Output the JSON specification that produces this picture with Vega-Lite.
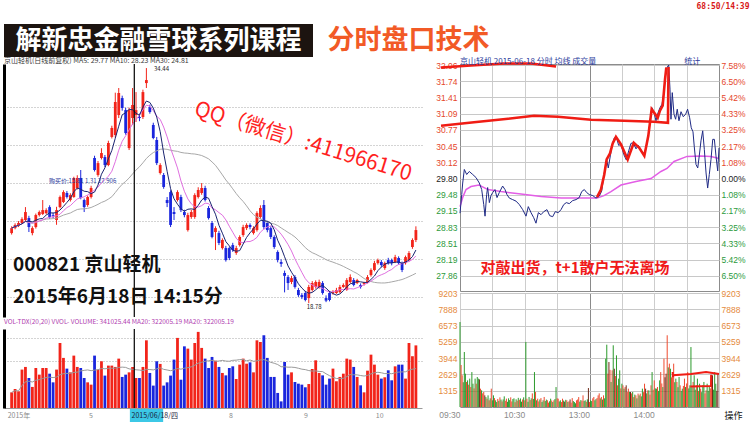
{
"$schema": "https://vega.github.io/schema/vega-lite/v6.json",
"background": "white",
"padding": {"left": 4, "top": 3, "right": 0, "bottom": 0},
"title": {"text": "68:50/14:39", "anchor": "end", "fontSize": 8, "color": "#d81818", "font": "DejaVu Sans Mono", "fontWeight": "bold", "offset": 13},
"config": {"view": {"stroke": null}, "axis": {"labelFont": "Liberation Sans"}, "title": {"font": "Noto Sans CJK SC", "fontWeight": "normal"}},
"spacing": 0,
"datasets": {
"k": [
{"i":0,"o":23.45,"h":23.9,"l":23.35,"c":23.78,"v":130},
{"i":1,"o":23.78,"h":24.1,"l":23.7,"c":23.99,"v":158},
{"i":2,"o":23.92,"h":24.25,"l":23.85,"c":24.12,"v":139},
{"i":3,"o":24.12,"h":24.5,"l":24.05,"c":24.38,"v":319},
{"i":4,"o":24.32,"h":25.18,"l":24.25,"c":24.85,"v":341},
{"i":5,"o":24.45,"h":24.6,"l":23.52,"c":23.85,"v":249},
{"i":6,"o":23.45,"h":23.9,"l":23.3,"c":23.78,"v":175},
{"i":7,"o":23.85,"h":24.75,"l":23.75,"c":24.65,"v":332},
{"i":8,"o":24.65,"h":24.95,"l":24.55,"c":24.85,"v":277},
{"i":9,"o":24.72,"h":25.65,"l":24.65,"c":24.98,"v":332},
{"i":10,"o":24.78,"h":25.1,"l":24.7,"c":24.98,"v":332},
{"i":11,"o":25.18,"h":25.3,"l":24.4,"c":24.52,"v":285},
{"i":12,"o":24.65,"h":24.8,"l":24.45,"c":24.6,"v":213},
{"i":13,"o":24.32,"h":25.2,"l":24.0,"c":24.98,"v":319},
{"i":14,"o":25.18,"h":25.95,"l":25.1,"c":25.85,"v":540},
{"i":15,"o":25.52,"h":26.3,"l":25.45,"c":26.18,"v":416},
{"i":16,"o":26.12,"h":26.25,"l":25.75,"c":25.85,"v":327},
{"i":17,"o":25.65,"h":26.1,"l":25.55,"c":25.98,"v":296},
{"i":18,"o":25.85,"h":27.2,"l":25.8,"c":27.12,"v":435},
{"i":19,"o":26.45,"h":27.3,"l":26.35,"c":27.12,"v":341},
{"i":20,"o":27.12,"h":27.65,"l":25.7,"c":25.78,"v":332},
{"i":21,"o":25.65,"h":25.75,"l":24.85,"c":25.18,"v":249},
{"i":22,"o":25.32,"h":25.95,"l":25.2,"c":25.85,"v":213},
{"i":23,"o":25.85,"h":26.6,"l":25.75,"c":26.45,"v":194},
{"i":24,"o":28.45,"h":28.6,"l":27.55,"c":27.65,"v":435},
{"i":25,"o":27.32,"h":28.25,"l":27.2,"c":28.11,"v":319},
{"i":26,"o":28.45,"h":29.1,"l":28.35,"c":28.78,"v":388},
{"i":27,"o":28.51,"h":28.65,"l":27.85,"c":27.98,"v":269},
{"i":28,"o":27.98,"h":29.6,"l":27.9,"c":29.45,"v":352},
{"i":29,"o":29.85,"h":30.6,"l":29.75,"c":30.45,"v":352},
{"i":30,"o":29.98,"h":32.8,"l":29.8,"c":32.18,"v":341},
{"i":31,"o":31.31,"h":33.11,"l":31.11,"c":32.78,"v":410},
{"i":32,"o":32.44,"h":32.6,"l":31.6,"c":31.78,"v":258},
{"i":33,"o":31.64,"h":31.8,"l":30.0,"c":30.11,"v":277},
{"i":34,"o":29.11,"h":31.8,"l":28.98,"c":31.64,"v":296},
{"i":35,"o":31.11,"h":33.11,"l":30.65,"c":31.98,"v":341},
{"i":36,"o":31.31,"h":32.84,"l":30.85,"c":31.64,"v":249},
{"i":37,"o":31.18,"h":31.4,"l":30.9,"c":31.11,"v":249},
{"i":38,"o":31.18,"h":33.0,"l":31.05,"c":32.84,"v":341},
{"i":39,"o":33.44,"h":34.44,"l":33.11,"c":33.64,"v":562},
{"i":40,"o":31.84,"h":32.0,"l":31.4,"c":31.51,"v":291},
{"i":41,"o":30.65,"h":30.8,"l":29.7,"c":29.78,"v":186},
{"i":42,"o":29.65,"h":29.85,"l":27.98,"c":28.11,"v":388},
{"i":43,"o":27.45,"h":28.1,"l":27.35,"c":27.98,"v":366},
{"i":44,"o":27.32,"h":27.45,"l":26.4,"c":26.52,"v":186},
{"i":45,"o":25.65,"h":25.85,"l":25.18,"c":25.45,"v":213},
{"i":46,"o":26.18,"h":26.3,"l":23.85,"c":23.99,"v":269},
{"i":47,"o":24.85,"h":25.18,"l":24.32,"c":24.72,"v":402},
{"i":48,"o":25.65,"h":26.3,"l":25.55,"c":26.18,"v":582},
{"i":49,"o":25.85,"h":26.0,"l":24.85,"c":24.98,"v":235},
{"i":50,"o":24.85,"h":25.0,"l":24.5,"c":24.65,"v":512},
{"i":51,"o":23.65,"h":24.8,"l":23.55,"c":24.65,"v":493},
{"i":52,"o":24.52,"h":25.0,"l":24.4,"c":24.85,"v":402},
{"i":53,"o":24.52,"h":26.1,"l":24.4,"c":25.98,"v":540},
{"i":54,"o":25.85,"h":26.5,"l":25.75,"c":26.32,"v":632},
{"i":55,"o":26.12,"h":26.78,"l":26.0,"c":26.45,"v":499},
{"i":56,"o":26.45,"h":26.6,"l":25.55,"c":25.65,"v":410},
{"i":57,"o":25.12,"h":25.25,"l":24.35,"c":24.45,"v":332},
{"i":58,"o":24.12,"h":24.25,"l":23.1,"c":23.19,"v":424},
{"i":59,"o":23.52,"h":23.9,"l":22.32,"c":23.78,"v":393},
{"i":60,"o":23.45,"h":23.6,"l":22.65,"c":22.79,"v":341},
{"i":61,"o":22.45,"h":23.1,"l":22.35,"c":22.99,"v":291},
{"i":62,"o":22.45,"h":22.6,"l":21.55,"c":21.65,"v":271},
{"i":63,"o":22.45,"h":22.55,"l":21.65,"c":21.79,"v":332},
{"i":64,"o":22.65,"h":22.8,"l":22.2,"c":22.32,"v":346},
{"i":65,"o":22.12,"h":22.6,"l":22.0,"c":22.45,"v":241},
{"i":66,"o":22.65,"h":23.3,"l":22.55,"c":23.19,"v":360},
{"i":67,"o":23.32,"h":24.0,"l":23.2,"c":23.85,"v":410},
{"i":68,"o":23.78,"h":24.1,"l":23.65,"c":23.99,"v":368},
{"i":69,"o":23.99,"h":24.1,"l":23.7,"c":23.85,"v":379},
{"i":70,"o":23.45,"h":23.9,"l":23.35,"c":23.78,"v":296},
{"i":71,"o":23.65,"h":24.9,"l":23.55,"c":24.78,"v":562},
{"i":72,"o":24.52,"h":25.3,"l":24.4,"c":25.12,"v":548},
{"i":73,"o":25.32,"h":25.65,"l":23.7,"c":23.85,"v":604},
{"i":74,"o":24.12,"h":24.25,"l":23.5,"c":23.65,"v":416},
{"i":75,"o":23.78,"h":23.9,"l":23.05,"c":23.19,"v":258},
{"i":76,"o":23.19,"h":23.3,"l":22.4,"c":22.52,"v":258},
{"i":77,"o":22.19,"h":22.3,"l":21.5,"c":21.65,"v":125},
{"i":78,"o":21.52,"h":21.7,"l":21.2,"c":21.4,"v":55},
{"i":79,"o":20.79,"h":20.95,"l":19.5,"c":20.6,"v":382},
{"i":80,"o":20.52,"h":20.65,"l":19.66,"c":20.12,"v":277},
{"i":81,"o":20.19,"h":20.6,"l":20.05,"c":20.45,"v":296},
{"i":82,"o":20.52,"h":20.65,"l":19.75,"c":19.86,"v":216},
{"i":83,"o":19.66,"h":19.8,"l":19.2,"c":19.32,"v":202},
{"i":84,"o":19.32,"h":19.45,"l":19.05,"c":19.19,"v":194},
{"i":85,"o":19.46,"h":19.6,"l":18.9,"c":18.99,"v":172},
{"i":86,"o":19.12,"h":20.0,"l":18.78,"c":19.86,"v":199},
{"i":87,"o":19.66,"h":20.25,"l":19.55,"c":20.12,"v":324},
{"i":88,"o":19.86,"h":20.3,"l":19.75,"c":20.19,"v":396},
{"i":89,"o":19.86,"h":20.35,"l":19.75,"c":20.19,"v":291},
{"i":90,"o":20.12,"h":20.25,"l":19.35,"c":19.46,"v":271},
{"i":91,"o":19.12,"h":19.3,"l":18.85,"c":18.95,"v":194},
{"i":92,"o":19.46,"h":19.6,"l":18.9,"c":18.99,"v":244},
{"i":93,"o":19.46,"h":19.65,"l":19.35,"c":19.52,"v":327},
{"i":94,"o":19.46,"h":19.8,"l":19.4,"c":19.66,"v":222},
{"i":95,"o":19.52,"h":20.0,"l":19.45,"c":19.86,"v":258},
{"i":96,"o":19.86,"h":20.1,"l":19.8,"c":19.99,"v":285},
{"i":97,"o":19.66,"h":20.45,"l":19.6,"c":20.32,"v":410},
{"i":98,"o":20.19,"h":20.7,"l":20.1,"c":20.52,"v":402},
{"i":99,"o":20.32,"h":20.45,"l":19.9,"c":19.99,"v":341},
{"i":100,"o":20.12,"h":20.4,"l":20.05,"c":20.32,"v":258},
{"i":101,"o":19.99,"h":20.1,"l":19.75,"c":19.86,"v":188},
{"i":102,"o":20.06,"h":20.2,"l":19.95,"c":20.12,"v":130},
{"i":103,"o":20.19,"h":20.65,"l":20.1,"c":20.52,"v":310},
{"i":104,"o":20.65,"h":21.1,"l":20.55,"c":20.99,"v":443},
{"i":105,"o":20.99,"h":21.6,"l":20.9,"c":21.45,"v":360},
{"i":106,"o":21.45,"h":21.75,"l":21.35,"c":21.65,"v":277},
{"i":107,"o":21.52,"h":21.65,"l":21.2,"c":21.32,"v":244},
{"i":108,"o":21.12,"h":21.55,"l":21.0,"c":21.45,"v":255},
{"i":109,"o":21.65,"h":21.8,"l":21.35,"c":21.45,"v":313},
{"i":110,"o":21.65,"h":21.75,"l":21.3,"c":21.45,"v":230},
{"i":111,"o":21.52,"h":22.0,"l":21.45,"c":21.85,"v":346},
{"i":112,"o":21.79,"h":21.9,"l":21.35,"c":21.45,"v":360},
{"i":113,"o":21.45,"h":21.55,"l":20.85,"c":20.99,"v":360},
{"i":114,"o":21.45,"h":21.95,"l":21.35,"c":21.85,"v":244},
{"i":115,"o":21.65,"h":22.25,"l":21.55,"c":22.12,"v":540},
{"i":116,"o":22.52,"h":23.1,"l":22.4,"c":22.99,"v":430},
{"i":117,"o":22.99,"h":23.9,"l":22.85,"c":23.65,"v":520}
],
"px": [
{"m":0,"p":29.11},{"m":1.6,"p":29.48},{"m":2.5,"p":29.71},{"m":4,"p":29.98},{"m":6.2,"p":29.88},{"m":8.6,"p":29.94},{"m":11.8,"p":29.88},{"m":14.8,"p":29.82},{"m":17.9,"p":29.71},{"m":20.1,"p":29.58},{"m":22,"p":29.28},{"m":23.2,"p":29.05},{"m":24.7,"p":29.48},{"m":25.6,"p":29.62},{"m":27.2,"p":29.32},{"m":28.7,"p":29.46},{"m":30.3,"p":29.52},{"m":32.4,"p":29.58},{"m":34.3,"p":29.42},{"m":36.4,"p":29.52},{"m":39.5,"p":29.65},{"m":41.7,"p":29.58},{"m":43.5,"p":29.48},{"m":45.7,"p":29.41},{"m":48.8,"p":29.38},{"m":51.9,"p":29.35},{"m":55,"p":29.28},{"m":58.1,"p":29.18},{"m":61.2,"p":29.05},{"m":63.3,"p":29.24},{"m":65.8,"p":29.12},{"m":68.3,"p":29.02},{"m":70.4,"p":28.91},{"m":72.6,"p":29.12},{"m":75.1,"p":29.08},{"m":77.6,"p":29.14},{"m":80.6,"p":29.18},{"m":83.1,"p":29.06},{"m":85.9,"p":29.04},{"m":88.3,"p":29.14},{"m":91.1,"p":29.12},{"m":93.6,"p":29.18},{"m":96.1,"p":29.28},{"m":98.5,"p":29.32},{"m":101.3,"p":29.3},{"m":104.4,"p":29.36},{"m":107.5,"p":29.38},{"m":110.5,"p":29.42},{"m":112.8,"p":29.54},{"m":115.2,"p":29.58},{"m":117.4,"p":29.52},{"m":119.8,"p":29.48},{"m":123,"p":29.46},{"m":126,"p":29.41},{"m":129.1,"p":29.45},{"m":131.3,"p":29.55},{"m":133.7,"p":29.91},{"m":135.9,"p":30.18},{"m":137.4,"p":30.01},{"m":139.3,"p":30.25},{"m":141.1,"p":30.48},{"m":143,"p":30.61},{"m":144.8,"p":30.63},{"m":147,"p":30.46},{"m":149.2,"p":30.48},{"m":151.7,"p":30.28},{"m":154.1,"p":30.17},{"m":156.3,"p":30.35},{"m":158.4,"p":30.5},{"m":160.6,"p":30.51},{"m":163.1,"p":30.39},{"m":165.2,"p":30.46},{"m":167.7,"p":30.37},{"m":170.8,"p":30.28},{"m":173,"p":30.48},{"m":174.5,"p":30.65},{"m":176.3,"p":30.98},{"m":177.9,"p":31.21},{"m":179.8,"p":31.11},{"m":181.6,"p":30.95},{"m":183.5,"p":31.11},{"m":185.3,"p":31.21},{"m":187.2,"p":31.28},{"m":188.7,"p":31.48},{"m":190.2,"p":31.81},{"m":191.8,"p":32.01},{"m":193.4,"p":32.06},{"m":194.6,"p":31.58},{"m":195.5,"p":30.98},{"m":196.7,"p":31.51},{"m":198.3,"p":31.08},{"m":199.8,"p":30.98},{"m":201.3,"p":31.18},{"m":202.9,"p":30.95},{"m":204.8,"p":31.13},{"m":206.9,"p":31.03},{"m":209.1,"p":31.08},{"m":210.9,"p":31.18},{"m":212.8,"p":31.01},{"m":214.3,"p":30.81},{"m":215.9,"p":30.73},{"m":217.1,"p":30.43},{"m":218.7,"p":30.08},{"m":220.3,"p":30.01},{"m":221.7,"p":30.25},{"m":223.3,"p":30.55},{"m":224.9,"p":30.75},{"m":226.4,"p":30.38},{"m":228,"p":29.91},{"m":229.5,"p":29.61},{"m":231,"p":29.88},{"m":232.6,"p":30.18},{"m":234.2,"p":30.58},{"m":235.7,"p":30.58},{"m":237.2,"p":30.25},{"m":238.8,"p":29.95},{"m":240,"p":30.41}
],
"avg": [
{"m":0,"p":29.24},{"m":2.8,"p":29.44},{"m":5.6,"p":29.58},{"m":10.2,"p":29.64},{"m":17.6,"p":29.67},{"m":25.9,"p":29.58},{"m":38,"p":29.54},{"m":56.5,"p":29.49},{"m":75.1,"p":29.44},{"m":93.6,"p":29.41},{"m":112.1,"p":29.41},{"m":127,"p":29.41},{"m":133.4,"p":29.46},{"m":139.9,"p":29.54},{"m":149.2,"p":29.67},{"m":163.1,"p":29.74},{"m":177,"p":29.8},{"m":186.2,"p":29.94},{"m":191.8,"p":30.0},{"m":198.3,"p":30.14},{"m":210.4,"p":30.24},{"m":223.3,"p":30.25},{"m":232.6,"p":30.24},{"m":240,"p":30.2}
],
"ann": [
{"s":"A","k":0,"m":-17.6,"p":32.01},{"s":"A","k":1,"m":10.2,"p":32.05},{"s":"A","k":2,"m":40.8,"p":32.09},{"s":"A","k":3,"m":65.8,"p":32.09},{"s":"A","k":4,"m":89,"p":32.03},
{"s":"B","k":0,"m":-17.6,"p":30.85},{"s":"B","k":1,"m":13,"p":30.92},{"s":"B","k":2,"m":44.5,"p":30.99},{"s":"B","k":3,"m":68.6,"p":31.05},{"s":"B","k":4,"m":90.8,"p":31.03},{"s":"B","k":5,"m":121.4,"p":30.97},{"s":"B","k":6,"m":152,"p":30.95},{"s":"B","k":7,"m":179.8,"p":30.93},{"s":"B","k":8,"m":192.7,"p":30.91},{"s":"B","k":9,"m":193.2,"p":32.02},
{"s":"C","k":0,"m":127,"p":29.43},{"s":"C","k":1,"m":130.6,"p":29.58},{"s":"C","k":2,"m":133.7,"p":29.88},{"s":"C","k":3,"m":135.9,"p":30.18},{"s":"C","k":4,"m":139,"p":30.3},{"s":"C","k":5,"m":141.5,"p":30.5},{"s":"C","k":6,"m":144.5,"p":30.63},{"s":"C","k":7,"m":149.2,"p":30.48},{"s":"C","k":8,"m":155.4,"p":30.18},{"s":"C","k":9,"m":161,"p":30.51},{"s":"C","k":10,"m":166.1,"p":30.41},{"s":"C","k":11,"m":170.8,"p":30.25},{"s":"C","k":12,"m":174.5,"p":30.65},{"s":"C","k":13,"m":177.6,"p":31.18},{"s":"C","k":14,"m":180,"p":31.11},{"s":"C","k":15,"m":183.2,"p":31.01},{"s":"C","k":16,"m":185.3,"p":31.15},{"s":"C","k":17,"m":187.8,"p":31.25},{"s":"C","k":18,"m":190,"p":31.78},{"s":"C","k":19,"m":191.2,"p":32.01}
],
"rvann": [
{"s":"A","k":0,"m":197.1,"v":2825},{"s":"A","k":1,"m":197.2,"v":2420},{"s":"A","k":2,"m":197.4,"v":2558},{"s":"A","k":3,"m":214,"v":2663},{"s":"A","k":4,"m":228,"v":2825},{"s":"A","k":5,"m":240,"v":2663},
{"s":"B","k":0,"m":213.4,"v":1650},{"s":"B","k":1,"m":232.6,"v":1700},{"s":"B","k":2,"m":232.7,"v":2600}
],
"rv": [
{"m":0,"v":6860,"d":"g"},{"m":1,"v":3390,"d":"r"},{"m":2,"v":2560,"d":"r"},{"m":3,"v":2000,"d":"g"},{"m":4,"v":4440,"d":"g"},{"m":5,"v":2690,"d":"g"},{"m":6,"v":2020,"d":"r"},{"m":7,"v":2150,"d":"g"},{"m":8,"v":1800,"d":"r"},{"m":9,"v":2290,"d":"g"},
{"m":10,"v":1610,"d":"r"},{"m":11,"v":2820,"d":"g"},{"m":12,"v":1880,"d":"g"},{"m":13,"v":1500,"d":"r"},{"m":14,"v":2290,"d":"g"},{"m":15,"v":1880,"d":"r"},{"m":16,"v":2420,"d":"g"},{"m":17,"v":2290,"d":"g"},{"m":18,"v":2230,"d":"d"},{"m":19,"v":1480,"d":"r"},
{"m":20,"v":1345,"d":"g"},{"m":21,"v":1100,"d":"r"},{"m":22,"v":1210,"d":"r"},{"m":23,"v":940,"d":"d"},{"m":24,"v":800,"d":"g"},{"m":25,"v":670,"d":"r"},{"m":26,"v":940,"d":"g"},{"m":27,"v":540,"d":"r"},{"m":28,"v":700,"d":"g"},{"m":29,"v":1480,"d":"r"},
{"m":30,"v":540,"d":"g"},{"m":31,"v":940,"d":"g"},{"m":32,"v":720,"d":"r"},{"m":33,"v":540,"d":"g"},{"m":34,"v":400,"d":"g"},{"m":35,"v":650,"d":"r"},{"m":36,"v":500,"d":"g"},{"m":37,"v":780,"d":"r"},{"m":38,"v":600,"d":"g"},{"m":39,"v":450,"d":"r"},
{"m":40,"v":610,"d":"g"},{"m":41,"v":860,"d":"g"},{"m":42,"v":500,"d":"r"},{"m":43,"v":670,"d":"r"},{"m":44,"v":420,"d":"g"},{"m":45,"v":700,"d":"g"},{"m":46,"v":560,"d":"g"},{"m":47,"v":780,"d":"r"},{"m":48,"v":450,"d":"r"},{"m":49,"v":640,"d":"g"},
{"m":50,"v":700,"d":"g"},{"m":51,"v":390,"d":"r"},{"m":52,"v":620,"d":"g"},{"m":53,"v":510,"d":"r"},{"m":54,"v":740,"d":"g"},{"m":55,"v":580,"d":"r"},{"m":56,"v":690,"d":"g"},{"m":57,"v":430,"d":"g"},{"m":58,"v":610,"d":"r"},{"m":59,"v":780,"d":"g"},
{"m":60,"v":540,"d":"r"},{"m":61,"v":5250,"d":"g"},{"m":62,"v":670,"d":"r"},{"m":63,"v":420,"d":"g"},{"m":64,"v":810,"d":"g"},{"m":65,"v":560,"d":"r"},{"m":66,"v":700,"d":"g"},{"m":67,"v":1100,"d":"r"},{"m":68,"v":650,"d":"g"},{"m":69,"v":2820,"d":"g"},
{"m":70,"v":1210,"d":"r"},{"m":71,"v":540,"d":"g"},{"m":72,"v":670,"d":"r"},{"m":73,"v":450,"d":"r"},{"m":74,"v":610,"d":"g"},{"m":75,"v":720,"d":"r"},{"m":76,"v":400,"d":"g"},{"m":77,"v":540,"d":"g"},{"m":78,"v":810,"d":"r"},{"m":79,"v":480,"d":"g"},
{"m":80,"v":600,"d":"g"},{"m":81,"v":540,"d":"r"},{"m":82,"v":350,"d":"r"},{"m":83,"v":460,"d":"g"},{"m":84,"v":670,"d":"g"},{"m":85,"v":520,"d":"r"},{"m":86,"v":400,"d":"g"},{"m":87,"v":540,"d":"r"},{"m":88,"v":640,"d":"g"},{"m":89,"v":1610,"d":"g"},
{"m":90,"v":700,"d":"r"},{"m":91,"v":670,"d":"r"},{"m":92,"v":450,"d":"g"},{"m":93,"v":540,"d":"g"},{"m":94,"v":400,"d":"r"},{"m":95,"v":670,"d":"r"},{"m":96,"v":520,"d":"g"},{"m":97,"v":430,"d":"d"},{"m":98,"v":580,"d":"g"},{"m":99,"v":540,"d":"r"},
{"m":100,"v":400,"d":"g"},{"m":101,"v":460,"d":"r"},{"m":102,"v":610,"d":"d"},{"m":103,"v":350,"d":"r"},{"m":104,"v":720,"d":"r"},{"m":105,"v":480,"d":"g"},{"m":106,"v":400,"d":"g"},{"m":107,"v":300,"d":"g"},{"m":108,"v":540,"d":"r"},{"m":109,"v":610,"d":"r"},
{"m":110,"v":800,"d":"r"},{"m":111,"v":430,"d":"g"},{"m":112,"v":560,"d":"g"},{"m":113,"v":500,"d":"r"},{"m":114,"v":940,"d":"r"},{"m":115,"v":480,"d":"g"},{"m":116,"v":540,"d":"g"},{"m":117,"v":420,"d":"r"},{"m":118,"v":620,"d":"g"},{"m":119,"v":1530,"d":"d"},
{"m":120,"v":400,"d":"r"},{"m":121,"v":540,"d":"g"},{"m":122,"v":480,"d":"g"},{"m":123,"v":700,"d":"r"},{"m":124,"v":810,"d":"r"},{"m":125,"v":540,"d":"g"},{"m":126,"v":640,"d":"g"},{"m":127,"v":720,"d":"r"},{"m":128,"v":940,"d":"r"},{"m":129,"v":1100,"d":"r"},
{"m":130,"v":700,"d":"g"},{"m":131,"v":810,"d":"r"},{"m":132,"v":600,"d":"g"},{"m":133,"v":940,"d":"r"},{"m":134,"v":700,"d":"g"},{"m":135,"v":3900,"d":"g"},{"m":136,"v":5030,"d":"g"},{"m":137,"v":2690,"d":"r"},{"m":138,"v":3630,"d":"d"},{"m":139,"v":3000,"d":"r"},
{"m":140,"v":2020,"d":"g"},{"m":141,"v":2960,"d":"r"},{"m":142,"v":4980,"d":"g"},{"m":143,"v":3090,"d":"d"},{"m":144,"v":2500,"d":"r"},{"m":145,"v":4170,"d":"g"},{"m":146,"v":1750,"d":"r"},{"m":147,"v":2290,"d":"g"},{"m":148,"v":2960,"d":"g"},{"m":149,"v":1500,"d":"r"},
{"m":150,"v":1880,"d":"g"},{"m":151,"v":1750,"d":"r"},{"m":152,"v":1480,"d":"g"},{"m":153,"v":1610,"d":"r"},{"m":154,"v":1750,"d":"d"},{"m":155,"v":1210,"d":"r"},{"m":156,"v":1480,"d":"r"},{"m":157,"v":1210,"d":"g"},{"m":158,"v":1210,"d":"d"},{"m":159,"v":1100,"d":"r"},
{"m":160,"v":1210,"d":"g"},{"m":161,"v":800,"d":"r"},{"m":162,"v":1000,"d":"g"},{"m":163,"v":940,"d":"r"},{"m":164,"v":700,"d":"g"},{"m":165,"v":1080,"d":"r"},{"m":166,"v":940,"d":"g"},{"m":167,"v":1080,"d":"r"},{"m":168,"v":860,"d":"g"},{"m":169,"v":1480,"d":"g"},
{"m":170,"v":1200,"d":"r"},{"m":171,"v":1880,"d":"r"},{"m":172,"v":1480,"d":"d"},{"m":173,"v":1100,"d":"g"},{"m":174,"v":1345,"d":"r"},{"m":175,"v":1345,"d":"g"},{"m":176,"v":1000,"d":"r"},{"m":177,"v":1750,"d":"r"},{"m":178,"v":2820,"d":"g"},{"m":179,"v":1400,"d":"r"},
{"m":180,"v":2150,"d":"r"},{"m":181,"v":1500,"d":"g"},{"m":182,"v":1480,"d":"g"},{"m":183,"v":1610,"d":"r"},{"m":184,"v":1300,"d":"g"},{"m":185,"v":2150,"d":"g"},{"m":186,"v":2820,"d":"r"},{"m":187,"v":1900,"d":"r"},{"m":188,"v":1610,"d":"g"},{"m":189,"v":3900,"d":"r"},
{"m":190,"v":2400,"d":"d"},{"m":191,"v":2690,"d":"d"},{"m":192,"v":5790,"d":"r"},{"m":193,"v":3200,"d":"g"},{"m":194,"v":3500,"d":"r"},{"m":195,"v":3090,"d":"g"},{"m":196,"v":2400,"d":"r"},{"m":197,"v":2690,"d":"r"},{"m":198,"v":3500,"d":"r"},{"m":199,"v":2000,"d":"g"},
{"m":200,"v":2290,"d":"g"},{"m":201,"v":2020,"d":"r"},{"m":202,"v":1600,"d":"g"},{"m":203,"v":2420,"d":"g"},{"m":204,"v":1750,"d":"r"},{"m":205,"v":1300,"d":"g"},{"m":206,"v":1480,"d":"g"},{"m":207,"v":1700,"d":"r"},{"m":208,"v":2290,"d":"r"},{"m":209,"v":1610,"d":"g"},
{"m":210,"v":1900,"d":"r"},{"m":211,"v":2820,"d":"r"},{"m":212,"v":1500,"d":"g"},{"m":213,"v":1750,"d":"g"},{"m":214,"v":4840,"d":"g"},{"m":215,"v":1600,"d":"g"},{"m":216,"v":2020,"d":"r"},{"m":217,"v":2560,"d":"g"},{"m":218,"v":1400,"d":"g"},{"m":219,"v":1750,"d":"r"},
{"m":220,"v":2290,"d":"g"},{"m":221,"v":1300,"d":"r"},{"m":222,"v":1880,"d":"g"},{"m":223,"v":1480,"d":"r"},{"m":224,"v":1200,"d":"g"},{"m":225,"v":1750,"d":"g"},{"m":226,"v":2020,"d":"g"},{"m":227,"v":1100,"d":"r"},{"m":228,"v":1345,"d":"r"},{"m":229,"v":1880,"d":"g"},
{"m":230,"v":1300,"d":"g"},{"m":231,"v":1610,"d":"g"},{"m":232,"v":1500,"d":"r"},{"m":233,"v":1750,"d":"r"},{"m":234,"v":2560,"d":"d"},{"m":235,"v":1400,"d":"g"},{"m":236,"v":2820,"d":"g"},{"m":237,"v":1880,"d":"g"},{"m":238,"v":1300,"d":"d"},{"m":239,"v":2690,"d":"d"}
]
},
"vconcat": [
{"hconcat": [
 {"width": 309, "height": 33, "view": {"fill": "#1c1410", "stroke": null},
  "data": {"values": [{"t": "解新忠金融雪球系列课程"}]},
  "mark": {"type": "text", "font": "Noto Sans CJK SC", "fontWeight": "bold", "fontSize": 26, "color": "#ffffff", "baseline": "middle"},
  "encoding": {"text": {"field": "t"}}},
 {"width": 175, "height": 33,
  "data": {"values": [{"t": "分时盘口技术"}]},
  "mark": {"type": "text", "font": "Noto Sans CJK SC", "fontWeight": "bold", "fontSize": 27, "color": "#f25a26", "baseline": "middle"},
  "encoding": {"text": {"field": "t"}}}
], "spacing": 8},
{"hconcat": [
 {"vconcat": [
  {"width": 418, "height": 253,
   "title": {"text": "京山轻机(日线前复权)  MA5: 29.77  MA10: 28.23  MA30: 24.81", "anchor": "start", "fontSize": 7, "color": "#3a3a3a", "offset": -1},
   "data": {"name": "k"},
   "transform": [
    {"window": [{"op": "mean", "field": "c", "as": "ma5"}], "frame": [-4, 0], "sort": [{"field": "i"}]},
    {"window": [{"op": "mean", "field": "c", "as": "ma10"}], "frame": [-9, 0], "sort": [{"field": "i"}]},
    {"window": [{"op": "mean", "field": "c", "as": "ma30"}], "frame": [-29, 0], "sort": [{"field": "i"}]}
   ],
   "encoding": {"x": {"field": "i", "type": "quantitative", "scale": {"domain": [-0.76, 117.32], "nice": false, "zero": false}, "axis": null}},
   "layer": [
    {"mark": {"type": "rule", "strokeWidth": 1},
     "encoding": {"y": {"field": "l", "type": "quantitative", "scale": {"domain": [17.86, 34.71], "nice": false, "zero": false},
       "axis": {"values": [33.11, 31.84, 30.58, 29.31, 28.05, 26.78, 25.52, 24.25, 22.99, 21.72, 20.46, 19.19], "labels": false, "ticks": false, "grid": true, "gridDash": [1, 2], "gridColor": "#a8a8a8", "domain": true, "domainColor": "#000000", "domainWidth": 3, "title": null, "minExtent": 0, "maxExtent": 0}},
      "y2": {"field": "h"},
      "color": {"condition": {"test": "datum.c >= datum.o", "value": "#f2241a"}, "value": "#1a26dd"}}},
    {"mark": {"type": "bar", "width": 2.8},
     "encoding": {"y": {"field": "o", "type": "quantitative"}, "y2": {"field": "c"},
      "color": {"condition": {"test": "datum.c >= datum.o", "value": "#f2241a"}, "value": "#1a26dd"}}},
    {"mark": {"type": "line", "color": "#a8a8a8", "strokeWidth": 1}, "encoding": {"y": {"field": "ma30", "type": "quantitative"}}},
    {"mark": {"type": "line", "color": "#e070e0", "strokeWidth": 1}, "encoding": {"y": {"field": "ma10", "type": "quantitative"}}},
    {"mark": {"type": "line", "color": "#1a2470", "strokeWidth": 1}, "encoding": {"y": {"field": "ma5", "type": "quantitative"}}},
    {"data": {"values": [{"i": 35.5}]}, "mark": {"type": "rule", "color": "#000000", "strokeWidth": 1.2}, "encoding": {"x": {"field": "i", "type": "quantitative"}}},
    {"data": {"values": [{"i": 0.4, "p": 21.32, "t": "000821 京山轻机"}, {"i": 0.4, "p": 19.19, "t": "2015年6月18日  14:15分"}]},
     "mark": {"type": "text", "align": "left", "baseline": "middle", "fontSize": 19, "fontWeight": "bold", "font": "Noto Sans CJK SC", "color": "#111111"},
     "encoding": {"x": {"field": "i", "type": "quantitative"}, "y": {"field": "p", "type": "quantitative"}, "text": {"field": "t"}}},
    {"data": {"values": [{"i": 84.3, "p": 29.51, "t": "QQ（微信）:411966170"}]},
     "mark": {"type": "text", "align": "center", "baseline": "middle", "fontSize": 21, "angle": 17, "font": "Noto Sans CJK SC", "color": "#ff1f1f"},
     "encoding": {"x": {"field": "i", "type": "quantitative"}, "y": {"field": "p", "type": "quantitative"}, "text": {"field": "t"}}},
    {"data": {"values": [{"i": 41.2, "p": 34.35, "t": "34.44"}, {"i": 85.4, "p": 18.55, "t": "18.78"}, {"i": 10.8, "p": 26.92, "t": "购买价:15.81  1.31  27.906"}]},
     "mark": {"type": "text", "align": "left", "baseline": "middle", "fontSize": 6, "font": "Noto Sans CJK SC"},
     "encoding": {"x": {"field": "i", "type": "quantitative"}, "y": {"field": "p", "type": "quantitative"}, "text": {"field": "t"},
      "color": {"condition": {"test": "length(datum.t) > 6", "value": "#2a3a9a"}, "value": "#222222"}}}
   ]},
  {"width": 418, "height": 79,
   "title": {"text": "VOL-TDX(20,20)  VVOL-  VOLUME: 341025.44  MA20: 322005.19  MA20: 322005.19", "anchor": "start", "fontSize": 6.5, "color": "#b040b0", "offset": 3},
   "data": {"name": "k"},
   "transform": [{"window": [{"op": "mean", "field": "v", "as": "vma"}], "frame": [-19, 0], "sort": [{"field": "i"}]}],
   "encoding": {"x": {"field": "i", "type": "quantitative", "scale": {"domain": [-0.76, 117.32], "nice": false, "zero": false}, "axis": {"labels": false, "ticks": false, "grid": false, "domain": true, "domainColor": "#9a9a9a", "title": null, "minExtent": 0, "maxExtent": 0}}},
   "layer": [
    {"mark": {"type": "bar", "width": 2.8},
     "encoding": {"y": {"field": "v", "type": "quantitative", "scale": {"domain": [0, 656], "nice": false},
       "axis": {"values": [390, 582], "labels": false, "ticks": false, "grid": true, "gridDash": [1, 2], "gridColor": "#a8a8a8", "domain": true, "domainColor": "#000000", "domainWidth": 3, "title": null, "minExtent": 0, "maxExtent": 0}},
      "color": {"condition": {"test": "datum.c >= datum.o", "value": "#f2241a"}, "value": "#1a26dd"}}},
    {"mark": {"type": "line", "color": "#9a9a9a", "strokeWidth": 1}, "encoding": {"y": {"field": "vma", "type": "quantitative"}}},
    {"data": {"values": [{"i": 35.5}]}, "mark": {"type": "rule", "color": "#000000", "strokeWidth": 1.2}, "encoding": {"x": {"field": "i", "type": "quantitative"}}}
   ]},
  {"width": 418, "height": 13,
   "layer": [
    {"data": {"values": [{"a": 34.8, "b": 44.2}]}, "mark": {"type": "rect", "color": "#3cc8e6"},
     "encoding": {"x": {"field": "a", "type": "quantitative", "scale": {"domain": [-0.76, 117.32], "nice": false, "zero": false}, "axis": null}, "x2": {"field": "b"}}},
    {"data": {"values": [{"i": 0, "t": "2015年"}, {"i": 23, "t": "5"}, {"i": 35, "t": "2015/06/18/四"}, {"i": 62.5, "t": "8"}, {"i": 83.7, "t": "9"}, {"i": 104, "t": "10"}]},
     "mark": {"type": "text", "align": "left", "baseline": "middle", "fontSize": 7, "font": "Noto Sans CJK SC", "dx": 1},
     "encoding": {"x": {"field": "i", "type": "quantitative", "axis": null}, "text": {"field": "t"},
      "color": {"condition": {"test": "length(datum.t) > 5", "value": "#1a1a3a"}, "value": "#8a8a8a"}}}
   ]}
 ], "spacing": 0},
 {"vconcat": [
  {"width": 259, "height": 227,
   "view": {"stroke": "#8c8c8c"},
   "title": {"text": "京山轻机  2015-06-18 分时  均线  成交量\u3000\u3000\u3000\u3000\u3000\u3000\u3000\u3000\u3000\u3000\u3000统计", "anchor": "start", "frame": "group", "fontSize": 8, "color": "#2b3a9a", "offset": -8},
   "resolve": {"axis": {"y": "independent"}},
   "encoding": {"x": {"field": "m", "type": "quantitative", "scale": {"domain": [0, 240], "nice": false, "zero": false},
     "axis": {"values": [30, 60, 90, 120, 150, 180, 210], "labels": false, "ticks": false, "domain": false, "grid": true, "gridColor": {"condition": {"test": "datum.value == 120", "value": "#8a8a8a"}, "value": "#cdcdcd"}, "title": null, "minExtent": 0, "maxExtent": 0}}},
   "layer": [
    {"data": {"name": "avg"}, "mark": {"type": "line", "color": "#e35ee6", "strokeWidth": 1.5},
     "encoding": {"y": {"field": "p", "type": "quantitative", "scale": {"domain": [27.56, 32.08], "nice": false, "zero": false},
      "axis": {"orient": "right", "values": [32.06, 31.7371, 31.4143, 31.0914, 30.7686, 30.4457, 30.1229, 29.8, 29.4771, 29.1543, 28.8314, 28.5086, 28.1857, 27.8629],
       "labelExpr": "format(abs(datum.value - 29.8) / 29.8 * 100, '.2f') + '%'", "grid": false, "ticks": false, "domain": false, "labelFontSize": 8.5, "labelPadding": 2,
       "labelColor": {"condition": [{"test": "datum.value > 29.81", "value": "#e5462b"}, {"test": "datum.value < 29.79", "value": "#2c9a3c"}], "value": "#222222"},
       "title": null, "minExtent": 30, "maxExtent": 30}}}},
    {"data": {"name": "px"}, "mark": {"type": "line", "color": "#1f2a85", "strokeWidth": 1},
     "encoding": {"y": {"field": "p", "type": "quantitative", "scale": {"domain": [27.56, 32.08], "nice": false, "zero": false},
      "axis": {"orient": "left", "values": [32.06, 31.7371, 31.4143, 31.0914, 30.7686, 30.4457, 30.1229, 29.8, 29.4771, 29.1543, 28.8314, 28.5086, 28.1857, 27.8629],
       "format": ".2f", "grid": true, "gridColor": "#c8c8c8", "ticks": false, "domain": false, "labelFontSize": 8.5, "labelPadding": 3,
       "labelColor": {"condition": [{"test": "datum.value > 29.81", "value": "#e5462b"}, {"test": "datum.value < 29.79", "value": "#2c9a3c"}], "value": "#222222"},
       "title": null, "minExtent": 37, "maxExtent": 37}}}},
    {"data": {"name": "ann"}, "mark": {"type": "line", "color": "#f01c14", "strokeWidth": 2.6, "clip": false},
     "encoding": {"y": {"field": "p", "type": "quantitative", "scale": {"domain": [27.56, 32.08], "nice": false, "zero": false}, "axis": null}, "detail": {"field": "s"}, "order": {"field": "k"}}},
    {"data": {"values": [{"m": 106.6, "p": 28.02, "t": "对敲出货，t+1散户无法离场"}]},
     "mark": {"type": "text", "fontSize": 15, "fontWeight": "bold", "font": "Noto Sans CJK SC", "color": "#f01a1a", "align": "center", "baseline": "middle"},
     "encoding": {"y": {"field": "p", "type": "quantitative", "scale": {"domain": [27.56, 32.08], "nice": false, "zero": false}, "axis": null}, "text": {"field": "t"}}}
   ]},
  {"width": 259, "height": 114,
   "view": {"stroke": "#8c8c8c"},
   "resolve": {"axis": {"y": "independent"}},
   "encoding": {"x": {"field": "m", "type": "quantitative", "scale": {"domain": [0, 240], "nice": false, "zero": false},
     "axis": {"values": [0, 30, 60, 90, 120, 150, 180, 210, 240], "labelExpr": "datum.value == 0 ? '09:30' : datum.value == 60 ? '10:30' : datum.value == 120 ? '13:00' : datum.value == 180 ? '14:00' : ''",
      "labelAlign": "right", "labelFontSize": 8.5, "labelColor": "#8a8a8a", "labelPadding": 3, "ticks": false, "domain": false, "grid": true,
      "gridColor": {"condition": {"test": "datum.value == 120", "value": "#8a8a8a"}, "value": "#cdcdcd"},
      "title": "操作", "titleX": 273, "titleY": 8, "titleAlign": "center", "titleBaseline": "middle", "titleAnchor": null, "titleFontSize": 9, "titleFontWeight": "normal", "titleColor": "#111111", "titleFont": "Noto Sans CJK SC"}}},
   "layer": [
    {"data": {"name": "rv"}, "mark": {"type": "rule", "strokeWidth": 1},
     "encoding": {"y": {"field": "v", "type": "quantitative", "scale": {"domain": [0, 9203], "nice": false},
       "axis": {"orient": "left", "values": [1315, 2629, 3944, 5259, 6573, 7888, 9203], "format": "d", "grid": true, "gridColor": "#c8c8c8", "ticks": false, "domain": false, "labelFontSize": 8.5, "labelColor": "#e58a3c", "labelPadding": 3, "title": null, "minExtent": 37, "maxExtent": 37}},
      "y2": {"datum": 0},
      "color": {"field": "d", "type": "nominal", "scale": {"domain": ["r", "g", "d"], "range": ["#ef4a2e", "#2b9a2b", "#6e2a18"]}, "legend": null}}},
    {"data": {"name": "rvann"}, "mark": {"type": "line", "color": "#f01c14", "strokeWidth": 2, "clip": false},
     "encoding": {"y": {"field": "v", "type": "quantitative", "scale": {"domain": [0, 9203], "nice": false},
       "axis": {"orient": "right", "values": [1315, 2629, 3944, 5259, 6573, 7888, 9203], "format": "d", "grid": false, "ticks": false, "domain": false, "labelFontSize": 8.5, "labelColor": "#e58a3c", "labelPadding": 2, "title": null, "minExtent": 30, "maxExtent": 30}},
      "detail": {"field": "s"}, "order": {"field": "k"}}}
   ]}
 ], "spacing": -4}
], "spacing": 0}
]
}
